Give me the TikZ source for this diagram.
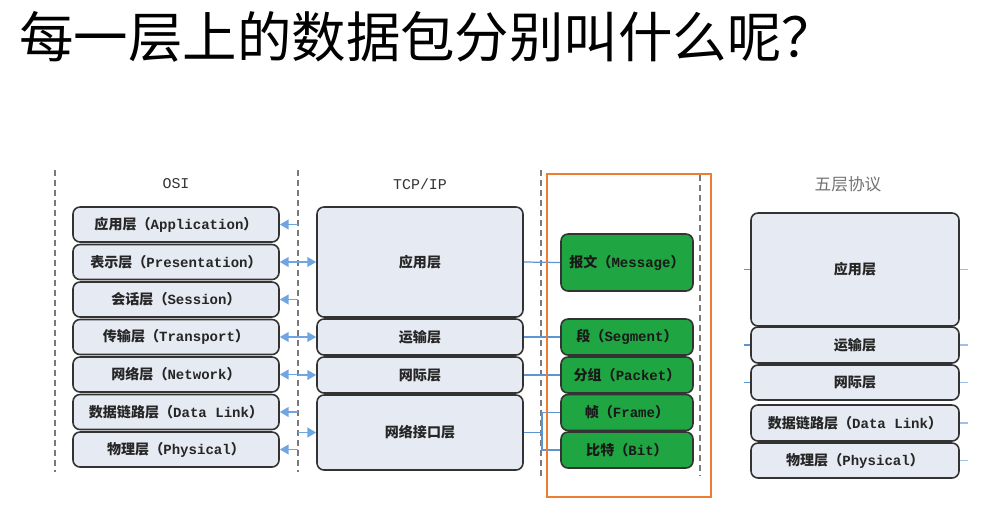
\documentclass[tikz,border=0pt]{standalone}
\usepackage{fontspec}
\setmainfont{Noto Sans CJK SC}
\newfontfamily\latfont{Liberation Mono}
\usetikzlibrary{arrows.meta}
\definecolor{layerfill}{HTML}{E6EAF3}
\definecolor{layerdraw}{HTML}{333333}
\definecolor{pktgreen}{HTML}{1FA541}
\definecolor{linkblue}{HTML}{5B95D6}
\definecolor{arrowblue}{HTML}{6FA6E2}
\definecolor{dashgray}{HTML}{7A7A7A}
\definecolor{hiorange}{HTML}{ED7D31}
\newdimen\px \px=0.02cm
\newcommand{\lat}[1]{{\latfont #1}}

\begin{document}
\begin{tikzpicture}[
    x=0.02cm, y=-0.02cm,
    layer/.style={rounded corners=7\px, draw=layerdraw, line width=0.9pt, fill=layerfill, inner sep=0pt, align=center, text=black!85, font=\bfseries\fontsize{8}{9}\selectfont},
    osibox/.style={layer, minimum width=206\px, minimum height=35\px},
    tcpbox/.style={layer, minimum width=206\px},
    fivebox/.style={layer, minimum width=208\px},
    pktbox/.style={layer, fill=pktgreen, draw=black!80, text=black!90, minimum width=132\px},
    header/.style={font=\fontsize{8.5}{10}\selectfont, text=black!80},
    sepline/.style={dashgray, line width=0.8pt, dash pattern=on 6\px off 4\px},
    blink/.style={-{Triangle[length=5pt, width=5.5pt]}, arrowblue, line width=1pt},
    link/.style={linkblue, line width=0.7pt},
]
\useasboundingbox (0,0) rectangle (990,508);

% Title
\node[anchor=west, font=\fontsize{31}{35}\selectfont] (title) at (13,37) {每一层上的数据包分别叫什么呢？};

% Column separators
\coordinate (d1t) at (55,170);  \coordinate (d1b) at (55,472);
\coordinate (d2t) at (298,170); \coordinate (d2b) at (298,472);
\coordinate (d3t) at (541,170); \coordinate (d3b) at (541,476);
\coordinate (d4t) at (700,175); \coordinate (d4b) at (700,476);
\foreach \i in {d1, d2, d3, d4} {
    \draw[sepline] (\i t) -- (\i b);
}

% Headers
\node[header] (hosi) at (176,184) {\lat{OSI}};
\node[header] (htcp) at (420,184) {\lat{TCP/IP}};
\node[header, text=black!55, font=\fontsize{9.5}{11}\selectfont] (hfive) at (848,184) {五层协议};

% OSI
\node[osibox] (o1) at (176,224.5) {应用层（\lat{Application}）};
\node[osibox] (o2) at (176,262) {表示层（\lat{Presentation}）};
\node[osibox] (o3) at (176,299.5) {会话层（\lat{Session}）};
\node[osibox] (o4) at (176,337) {传输层（\lat{Transport}）};
\node[osibox] (o5) at (176,374.5) {网络层（\lat{Network}）};
\node[osibox] (o6) at (176,412) {数据链路层（\lat{Data Link}）};
\node[osibox] (o7) at (176,449.5) {物理层（\lat{Physical}）};

% TCP/IP
\node[tcpbox, minimum height=110\px] (t1) at (420,262) {应用层};
\node[tcpbox, minimum height=36\px] (t2) at (420,337) {运输层};
\node[tcpbox, minimum height=36\px] (t3) at (420,375) {网际层};
\node[tcpbox, minimum height=75\px] (t4) at (420,432.5) {网络接口层};

% Packet names
\node[pktbox, minimum height=57\px] (p1) at (627,262.5) {报文（\lat{Message}）};
\node[pktbox, minimum height=36\px] (p2) at (627,337) {段（\lat{Segment}）};
\node[pktbox, minimum height=36\px] (p3) at (627,375) {分组（\lat{Packet}）};
\node[pktbox, minimum height=36\px] (p4) at (627,412.5) {帧（\lat{Frame}）};
\node[pktbox, minimum height=36\px] (p5) at (627,450) {比特（\lat{Bit}）};

% Five layers
\node[fivebox, minimum height=113\px] (f1) at (855,269.5) {应用层};
\node[fivebox, minimum height=36\px] (f2) at (855,345) {运输层};
\node[fivebox, minimum height=35\px] (f3) at (855,382.5) {网际层};
\node[fivebox, minimum height=36\px] (f4) at (855,423) {数据链路层（\lat{Data Link}）};
\node[fivebox, minimum height=35\px] (f5) at (855,460.5) {物理层（\lat{Physical}）};

% OSI <-> TCP/IP
\foreach \o in {o1, o2, o3, o4, o5, o6, o7} {
    \draw[blink] (\o.east -| d2t) -- (\o.east);
}
\foreach \t in {t1, t2, t3, t4} {
    \draw[blink] (\t.west -| d2t) -- (\t.west);
}

% TCP/IP -> packet names
\draw[link] (t1.east) -- (p1.west);
\draw[link] (t2.east) -- (p2.west);
\draw[link] (t3.east) -- (p3.west);
\coordinate (split) at (542,432.5);
\draw[link] (t4.east) -- (split);
\draw[link] (p4.west) -| (split) |- (p5.west);

% stubs at the five layers
\foreach \f in {f1, f2, f3} {
    \draw[link] (\f.west) -- ++(-6,0);
}
\foreach \f in {f1, f2, f3, f4, f5} {
    \draw[link, linkblue!60] (\f.east) -- ++(8,0);
}

% Highlight
\draw[hiorange, line width=0.8pt] (547,174) rectangle (711,497);

\end{tikzpicture}
\end{document}
